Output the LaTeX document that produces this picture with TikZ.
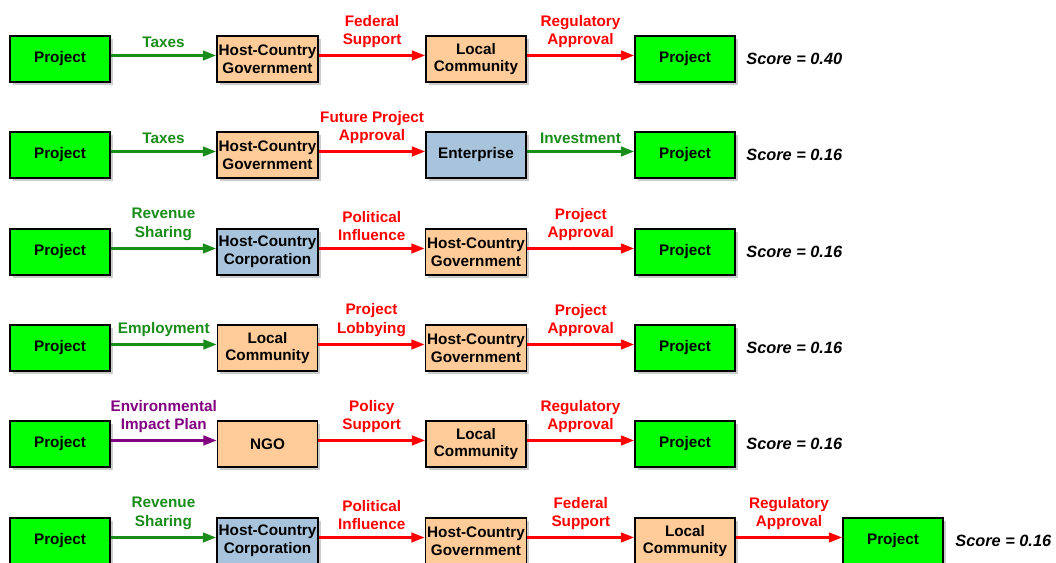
\documentclass[tikz,border=0pt]{standalone}
\usepackage{fontspec}
\setmainfont{Liberation Sans}
\usetikzlibrary{arrows.meta,shadows}
\definecolor{projgreen}{HTML}{00FF00}
\definecolor{peach}{HTML}{FFCC99}
\definecolor{steel}{HTML}{A8C4DC}
\definecolor{flowgreen}{HTML}{1A8C1A}
\definecolor{flowred}{HTML}{FF0000}
\definecolor{flowpurple}{HTML}{800080}
\begin{document}
\begin{tikzpicture}[box/.style = {shape = rectangle,
                                  draw = black,
                                  line width = 1pt,
                                  minimum width = 2cm,
                                  minimum height = 0.92cm,
                                  inner sep = 1pt,
                                  align = center,
                                  font = \fontsize{8.7}{10}\selectfont\bfseries,
                                  drop shadow = {shadow xshift=1.5pt, shadow yshift=-1.5pt, fill=black!40}},
                    proj/.style = {box, fill = projgreen},
                    actor/.style = {box, fill = peach},
                    corp/.style = {box, fill = steel},
                    flow/.style = {line width = 1.3pt, -{Triangle[length=7.5pt,width=5.5pt]}},
                    gain/.style = {flow, flowgreen},
                    push/.style = {flow, flowred},
                    env/.style = {flow, flowpurple},
                    lbl/.style = {above, align = center, inner sep = 4pt,
                                  font = \fontsize{8.7}{10.3}\selectfont\bfseries},
                    score/.style = {anchor = west, inner sep = 0pt,
                                    font = \fontsize{9.3}{11}\selectfont\bfseries\itshape}]
		\useasboundingbox (0,0) rectangle (21.12,-11.26);
		% row 1
		\node[proj] (p1) at (1.2,-1.18) {Project};
		\node[actor] (g1) at (5.35,-1.18) {Host-Country\\Government};
		\node[actor] (c1) at (9.52,-1.18) {Local\\Community};
		\node[proj] (q1) at (13.7,-1.18) {Project};
		\node[score] (s1) at (14.92,-1.18) {Score = 0.40};
		\path ([yshift=2pt]p1.east) edge[gain] node[lbl, flowgreen] {Taxes} ([yshift=2pt]g1.west);
		\path ([yshift=2pt]g1.east) edge[push] node[lbl, flowred] {Federal\\Support} ([yshift=2pt]c1.west);
		\path ([yshift=2pt]c1.east) edge[push] node[lbl, flowred] {Regulatory\\Approval} ([yshift=2pt]q1.west);
		% row 2
		\node[proj] (p2) at (1.2,-3.1) {Project};
		\node[actor] (g2) at (5.35,-3.1) {Host-Country\\Government};
		\node[corp] (e2) at (9.52,-3.1) {Enterprise};
		\node[proj] (q2) at (13.7,-3.1) {Project};
		\node[score] (s2) at (14.92,-3.1) {Score = 0.16};
		\path ([yshift=2pt]p2.east) edge[gain] node[lbl, flowgreen] {Taxes} ([yshift=2pt]g2.west);
		\path ([yshift=2pt]g2.east) edge[push] node[lbl, flowred] {Future Project\\Approval} ([yshift=2pt]e2.west);
		\path ([yshift=2pt]e2.east) edge[gain] node[lbl, flowgreen] {Investment} ([yshift=2pt]q2.west);
		% row 3
		\node[proj] (p3) at (1.2,-5.04) {Project};
		\node[corp] (h3) at (5.35,-5.04) {Host-Country\\Corporation};
		\node[actor] (g3) at (9.52,-5.04) {Host-Country\\Government};
		\node[proj] (q3) at (13.7,-5.04) {Project};
		\node[score] (s3) at (14.92,-5.04) {Score = 0.16};
		\path ([yshift=2pt]p3.east) edge[gain] node[lbl, flowgreen] {Revenue\\Sharing} ([yshift=2pt]h3.west);
		\path ([yshift=2pt]h3.east) edge[push] node[lbl, flowred] {Political\\Influence} ([yshift=2pt]g3.west);
		\path ([yshift=2pt]g3.east) edge[push] node[lbl, flowred] {Project\\Approval} ([yshift=2pt]q3.west);
		% row 4
		\node[proj] (p4) at (1.2,-6.96) {Project};
		\node[actor] (c4) at (5.35,-6.96) {Local\\Community};
		\node[actor] (g4) at (9.52,-6.96) {Host-Country\\Government};
		\node[proj] (q4) at (13.7,-6.96) {Project};
		\node[score] (s4) at (14.92,-6.96) {Score = 0.16};
		\path ([yshift=2pt]p4.east) edge[gain] node[lbl, flowgreen] {Employment} ([yshift=2pt]c4.west);
		\path ([yshift=2pt]c4.east) edge[push] node[lbl, flowred] {Project\\Lobbying} ([yshift=2pt]g4.west);
		\path ([yshift=2pt]g4.east) edge[push] node[lbl, flowred] {Project\\Approval} ([yshift=2pt]q4.west);
		% row 5
		\node[proj] (p5) at (1.2,-8.88) {Project};
		\node[actor] (n5) at (5.35,-8.88) {NGO};
		\node[actor] (c5) at (9.52,-8.88) {Local\\Community};
		\node[proj] (q5) at (13.7,-8.88) {Project};
		\node[score] (s5) at (14.92,-8.88) {Score = 0.16};
		\path ([yshift=2pt]p5.east) edge[env] node[lbl, flowpurple] {Environmental\\Impact Plan} ([yshift=2pt]n5.west);
		\path ([yshift=2pt]n5.east) edge[push] node[lbl, flowred] {Policy\\Support} ([yshift=2pt]c5.west);
		\path ([yshift=2pt]c5.east) edge[push] node[lbl, flowred] {Regulatory\\Approval} ([yshift=2pt]q5.west);
		% row 6
		\node[proj] (p6) at (1.2,-10.82) {Project};
		\node[corp] (h6) at (5.35,-10.82) {Host-Country\\Corporation};
		\node[actor] (g6) at (9.52,-10.82) {Host-Country\\Government};
		\node[actor] (c6) at (13.7,-10.82) {Local\\Community};
		\node[proj] (q6) at (17.86,-10.82) {Project};
		\node[score] (s6) at (19.1,-10.82) {Score = 0.16};
		\path ([yshift=2pt]p6.east) edge[gain] node[lbl, flowgreen] {Revenue\\Sharing} ([yshift=2pt]h6.west);
		\path ([yshift=2pt]h6.east) edge[push] node[lbl, flowred] {Political\\Influence} ([yshift=2pt]g6.west);
		\path ([yshift=2pt]g6.east) edge[push] node[lbl, flowred] {Federal\\Support} ([yshift=2pt]c6.west);
		\path ([yshift=2pt]c6.east) edge[push] node[lbl, flowred] {Regulatory\\Approval} ([yshift=2pt]q6.west);
	\end{tikzpicture}
\end{document}
